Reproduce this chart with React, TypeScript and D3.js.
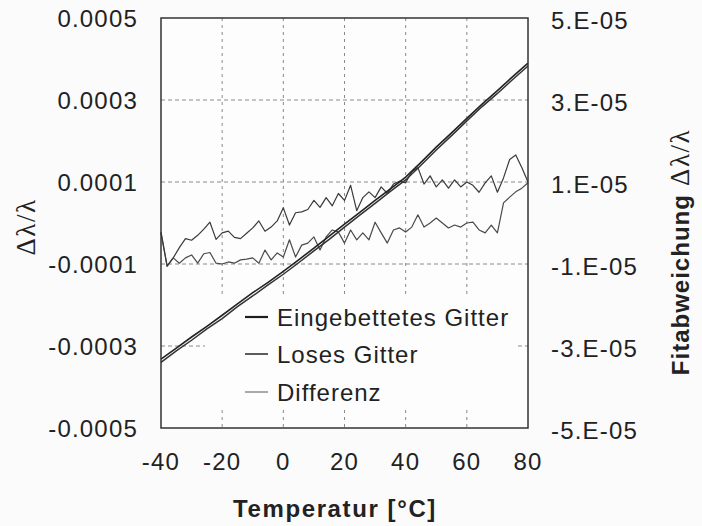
import React from 'react';
import * as d3 from 'd3';

// ---- data ----
const tempsFit = [-40, -35, -30, -25, -20, -15, -10, -5, 0, 5, 10, 15, 20, 25, 30, 35, 40, 45, 50, 55, 60, 65, 70, 75, 80];
const eingebettet = [-0.000332, -0.000305, -0.000278, -0.000252, -0.000225, -0.000197, -0.00017, -0.000145, -0.000118, -0.00009, -0.000061, -0.000032, -0.000003, 0.000026, 0.000055, 0.000083, 0.000112, 0.000148, 0.000185, 0.00022, 0.000255, 0.00029, 0.000323, 0.000357, 0.00039];
const loses = [-0.00034, -0.000312, -0.000286, -0.000258, -0.000233, -0.000204, -0.000178, -0.000151, -0.000125, -0.000097, -0.000068, -0.00004, -0.00001, 0.000019, 0.000048, 0.000077, 0.000105, 0.000141, 0.000178, 0.000213, 0.000249, 0.000284, 0.000316, 0.00035, 0.000383];

const tempsDev = [-40, -38, -36, -34, -32, -30, -28, -26, -24, -22, -20, -18, -16, -14, -12, -10, -8, -6, -4, -2, 0, 2, 4, 6, 8, 10, 12, 14, 16, 18, 20, 22, 24, 26, 28, 30, 32, 34, 36, 38, 40, 42, 44, 46, 48, 50, 52, 54, 56, 58, 60, 62, 64, 66, 68, 70, 72, 74, 76, 78, 80];
// fit deviation, units of 1e-5
const abweichungA = [-0.22, -1.05, -0.85, -0.6, -0.38, -0.42, -0.3, -0.15, 0.02, -0.4, -0.24, -0.2, -0.35, -0.38, -0.25, -0.12, 0.05, -0.2, -0.1, 0.05, 0.37, -0.05, 0.25, 0.27, 0.33, 0.55, 0.38, 0.62, 0.42, 0.72, 0.55, 0.92, 0.3, 0.62, 0.76, 0.62, 0.88, 0.72, 0.95, 1.02, 0.98, 1.25, 1.35, 0.95, 1.15, 0.88, 1.05, 0.85, 1.05, 0.88, 1.0, 0.92, 0.75, 0.98, 1.15, 0.75, 1.1, 1.55, 1.66, 1.35, 1.0];
const abweichungB = [-0.24, -1.05, -0.85, -0.98, -0.85, -0.78, -0.98, -0.75, -0.72, -0.98, -1.0, -0.95, -0.98, -0.9, -0.88, -0.85, -0.98, -0.66, -0.9, -0.73, -0.83, -0.41, -0.83, -0.54, -0.49, -0.34, -0.66, -0.34, -0.17, -0.22, -0.49, -0.17, -0.41, -0.24, -0.41, 0.02, -0.24, -0.49, -0.17, -0.12, -0.22, -0.1, 0.2, -0.1, 0.0, 0.12, 0.0, -0.12, -0.05, -0.1, 0.0, 0.02, -0.17, -0.24, -0.05, -0.24, 0.49, 0.63, 0.76, 0.85, 0.98];

const xTicks = [-40, -20, 0, 20, 40, 60, 80];
const leftTicks = [0.0005, 0.0003, 0.0001, -0.0001, -0.0003, -0.0005];
const leftTickLabels = ['0.0005', '0.0003', '0.0001', '-0.0001', '-0.0003', '-0.0005'];
const rightTicks = [5, 3, 1, -1, -3, -5];
const rightTickLabels = ['5.E-05', '3.E-05', '1.E-05', '-1.E-05', '-3.E-05', '-5.E-05'];
const legendLabels = ['Eingebettetes Gitter', 'Loses Gitter', 'Differenz'];

const W = 702, H = 526;
const L = 161, R = 528, T = 18, B = 428;
const FONT = "'Liberation Sans', Arial, Helvetica, sans-serif";
const SERIF = "'Liberation Serif', 'DejaVu Serif', serif";

export default function App() {
  const x = d3.scaleLinear().domain([-40, 80]).range([L, R]);
  const yL = d3.scaleLinear().domain([-0.0005, 0.0005]).range([B, T]);
  const yR = d3.scaleLinear().domain([-5, 5]).range([B, T]);

  const lineL = d3.line<number>().x((_, i) => x(tempsFit[i])).y((d) => yL(d));
  const lineR = d3.line<number>().x((_, i) => x(tempsDev[i])).y((d) => yR(d));

  const gridColor = '#8a8a8a';
  const legendX1 = 245, legendX2 = 268, legendTextX = 277;
  const legendBase = [326, 363, 401];
  const legendStyles = [
    { stroke: '#1e1e1e', width: 2.2 },
    { stroke: '#333', width: 1.6 },
    { stroke: '#666', width: 1.1 },
  ];

  return (
    <svg width={W} height={H} style={{ position: 'absolute', left: 0, top: 0, background: '#fbfbfb' }}>
      <rect x={0} y={0} width={W} height={H} fill="#fbfbfb" />
      <rect x={L} y={T} width={R - L} height={B - T} fill="#fdfdfd" />
      {/* grid */}
      {leftTicks.slice(1, -1).map((v) => (
        <line key={'h' + v} x1={L} x2={R} y1={yL(v)} y2={yL(v)} stroke={gridColor} strokeWidth={1} strokeDasharray="4,3" />
      ))}
      {xTicks.slice(1, -1).map((v) => (
        <line key={'v' + v} x1={x(v)} x2={x(v)} y1={T} y2={B} stroke={gridColor} strokeWidth={1} strokeDasharray="3,4" />
      ))}
      {/* legend background */}
      <rect x={205} y={295} width={312} height={112} fill="#fdfdfd" />
      {/* deviation lines (right axis) */}
      <path d={lineR(abweichungB) || ''} fill="none" stroke="#4a4a4a" strokeWidth={1.2} strokeLinejoin="round" />
      <path d={lineR(abweichungA) || ''} fill="none" stroke="#3a3a3a" strokeWidth={1.2} strokeLinejoin="round" />
      {/* main lines (left axis) */}
      <path d={lineL(eingebettet) || ''} fill="none" stroke="#222" strokeWidth={1.6} />
      <path d={lineL(loses) || ''} fill="none" stroke="#333" strokeWidth={1.5} />
      {/* frame */}
      <rect x={L} y={T} width={R - L} height={B - T} fill="none" stroke="#333" strokeWidth={1.5} />
      {/* legend */}
      {legendLabels.map((lab, i) => (
        <g key={lab}>
          <line x1={legendX1} x2={legendX2} y1={legendBase[i] - 9} y2={legendBase[i] - 9} stroke={legendStyles[i].stroke} strokeWidth={legendStyles[i].width} />
          <text x={legendTextX} y={legendBase[i]} fontFamily={FONT} fontSize={24} letterSpacing={1} fill="#222">{lab}</text>
        </g>
      ))}
      {/* left ticks */}
      {leftTicks.map((v, i) => (
        <text key={'l' + v} x={138} y={yL(v) + 8.5} textAnchor="end" fontFamily={FONT} fontSize={24} letterSpacing={1.2} fill="#222">{leftTickLabels[i]}</text>
      ))}
      {/* right ticks */}
      {rightTicks.map((v, i) => (
        <text key={'r' + v} x={551} y={yR(v) + 11} textAnchor="start" fontFamily={FONT} fontSize={24} letterSpacing={1.2} fill="#222">{rightTickLabels[i]}</text>
      ))}
      {/* x ticks */}
      {xTicks.map((v) => (
        <text key={'x' + v} x={x(v)} y={470} textAnchor="middle" fontFamily={FONT} fontSize={24} letterSpacing={1.2} fill="#222">{String(v)}</text>
      ))}
      {/* titles */}
      <text x={335} y={517} textAnchor="middle" fontFamily={FONT} fontSize={24} fontWeight="bold" letterSpacing={1.6} fill="#222">Temperatur [°C]</text>
      <text transform="translate(35,227) rotate(-90)" textAnchor="middle" fontFamily={SERIF} fontSize={27} letterSpacing={1.5} fill="#222">Δλ/λ</text>
      <text transform="translate(689,252) rotate(-90)" textAnchor="middle" fontFamily={FONT} fontSize={24} fill="#222">
        <tspan fontWeight="bold" letterSpacing={1}>Fitabweichung</tspan>
        <tspan fontFamily={SERIF} fontSize={27} letterSpacing={1.5}> Δλ/λ</tspan>
      </text>
    </svg>
  );
}
